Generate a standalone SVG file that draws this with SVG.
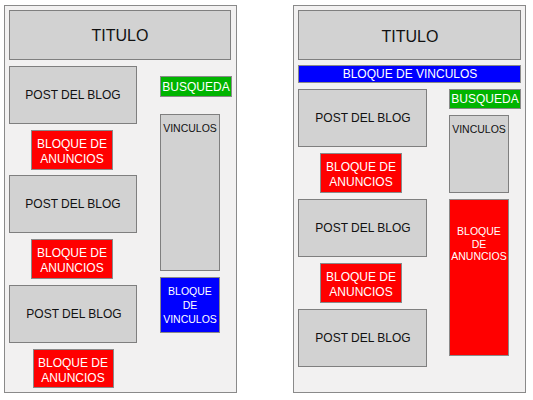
<svg xmlns="http://www.w3.org/2000/svg" width="533" height="400" viewBox="0 0 533 400">
<style>
.panel{fill:#f2f1f1;stroke:#8a8a8a;stroke-width:1}
.box{fill:#d2d2d2;stroke:#7f7f7f;stroke-width:1}
.red{fill:#ff0000;stroke:#8a8a8a;stroke-width:1}
.blue{fill:#0000ff;stroke:#8a8a8a;stroke-width:1}
.green{fill:#00b400;stroke:#8a8a8a;stroke-width:1}
text{font-family:"Liberation Sans",Arial,sans-serif;text-anchor:middle;dominant-baseline:central}
.dk{fill:#111}
.wt{fill:#fff}
.t{font-size:16px}
.m{font-size:12px}
.s{font-size:10.5px}
</style>
<rect width="533" height="400" fill="#ffffff"/>
<g id="left-panel">
<rect class="panel" x="4.5" y="5.5" width="232" height="387"/>
</g>
<g id="left-titulo"><rect class="box" x="9.5" y="10.5" width="221" height="49"/><text class="dk t" x="120" y="35">TITULO</text></g>
<g id="left-post1"><rect class="box" x="9.5" y="66.5" width="127" height="57"/><text class="dk m" x="73" y="95">POST DEL BLOG</text></g>
<g id="left-busqueda"><rect class="green" x="160.5" y="76.5" width="71" height="20"/><text class="wt m" x="196" y="87">BUSQUEDA</text></g>
<g id="left-vinculos"><rect class="box" x="160.5" y="114.5" width="59" height="156"/><text class="dk s" x="190" y="128">VINCULOS</text></g>
<g id="left-anuncios1"><rect class="red" x="31.5" y="130.5" width="81" height="39"/><text class="wt m" x="72" y="144">BLOQUE DE</text><text class="wt m" x="72" y="159">ANUNCIOS</text></g>
<g id="left-post2"><rect class="box" x="9.5" y="175.5" width="127" height="57"/><text class="dk m" x="73" y="204">POST DEL BLOG</text></g>
<g id="left-anuncios2"><rect class="red" x="31.5" y="239.5" width="81" height="39"/><text class="wt m" x="72" y="253">BLOQUE DE</text><text class="wt m" x="72" y="268">ANUNCIOS</text></g>
<g id="left-bloque-vinculos"><rect class="blue" x="160.5" y="277.5" width="59" height="55"/><text class="wt s" x="190" y="291">BLOQUE</text><text class="wt s" x="190" y="305">DE</text><text class="wt s" x="190" y="319">VINCULOS</text></g>
<g id="left-post3"><rect class="box" x="9.5" y="285.5" width="127" height="57"/><text class="dk m" x="74" y="314">POST DEL BLOG</text></g>
<g id="left-anuncios3"><rect class="red" x="33.5" y="349.5" width="80" height="38"/><text class="wt m" x="73" y="363">BLOQUE DE</text><text class="wt m" x="73" y="378">ANUNCIOS</text></g>

<g id="right-panel">
<rect class="panel" x="293.5" y="5.5" width="232" height="387"/>
</g>
<g id="right-titulo"><rect class="box" x="298.5" y="10.5" width="222" height="49"/><text class="dk t" x="410" y="36">TITULO</text></g>
<g id="right-bloque-vinculos"><rect class="blue" x="298.5" y="65.5" width="222" height="17"/><text class="wt m" x="410" y="74">BLOQUE DE VINCULOS</text></g>
<g id="right-post1"><rect class="box" x="298.5" y="89.5" width="128" height="57"/><text class="dk m" x="363" y="118">POST DEL BLOG</text></g>
<g id="right-busqueda"><rect class="green" x="449.5" y="89.5" width="71" height="19"/><text class="wt m" x="485" y="99">BUSQUEDA</text></g>
<g id="right-vinculos"><rect class="box" x="449.5" y="115.5" width="59" height="77"/><text class="dk s" x="479" y="129">VINCULOS</text></g>
<g id="right-anuncios1"><rect class="red" x="320.5" y="153.5" width="81" height="39"/><text class="wt m" x="361" y="167">BLOQUE DE</text><text class="wt m" x="361" y="182">ANUNCIOS</text></g>
<g id="right-post2"><rect class="box" x="298.5" y="199.5" width="128" height="57"/><text class="dk m" x="363" y="228">POST DEL BLOG</text></g>
<g id="right-anuncios-tall"><rect class="red" x="449.5" y="199.5" width="59" height="156"/><text class="wt s" x="479" y="231">BLOQUE</text><text class="wt s" x="479" y="243.5">DE</text><text class="wt s" x="479" y="256">ANUNCIOS</text></g>
<g id="right-anuncios2"><rect class="red" x="320.5" y="263.5" width="81" height="39"/><text class="wt m" x="361" y="277">BLOQUE DE</text><text class="wt m" x="361" y="292">ANUNCIOS</text></g>
<g id="right-post3"><rect class="box" x="298.5" y="309.5" width="128" height="57"/><text class="dk m" x="363" y="338">POST DEL BLOG</text></g>
<g id="connectors"></g>
</svg>
